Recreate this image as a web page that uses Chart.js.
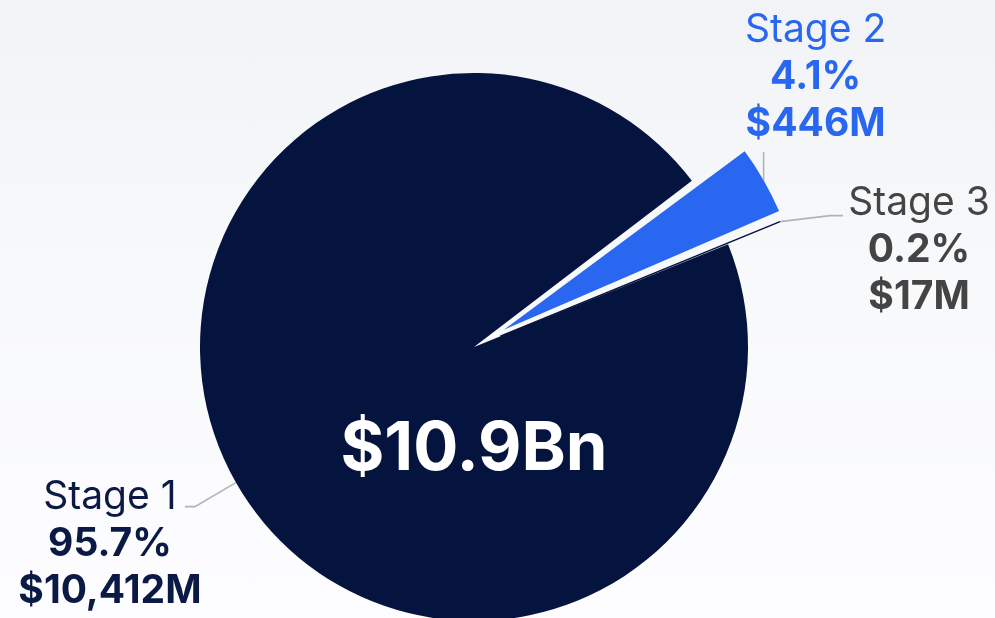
<!DOCTYPE html>
<html><head><meta charset="utf-8">
<script src="https://cdn.jsdelivr.net/npm/chart.js@4.4.1/dist/chart.umd.min.js"></script>
<style>
html,body{margin:0;padding:0;}
body{width:995px;height:618px;overflow:hidden;background:linear-gradient(180deg,#f2f3f6 0%,#f8f9fb 45%,#fdfdff 100%);}
canvas{display:block;}
</style></head><body>
<canvas id="c" width="995" height="618"></canvas>
<script>
const categories = ['Stage 1', 'Stage 2', 'Stage 3'];
const values = [10412, 446, 17];
const percentLabels = ['95.7%', '4.1%', '0.2%'];
const amountLabels = ['$10,412M', '$446M', '$17M'];
const totalLabel = '$10.9Bn';

const sliceColors = ['#05143e', '#2a67f1', '#05143e'];
const textColors = ['#0b1a45', '#2a67f1', '#444444'];
const sliceOffsets = [0, 138, 114];
const sliceBorders = [0, 0, 1.5];

const FONT = 'Inter, "Noto Sans", sans-serif';

const labelPlugin = {
  id: 'stageLabels',
  afterDatasetsDraw(chart) {
    const ctx = chart.ctx;
    const meta = chart.getDatasetMeta(0);
    const anchors = meta.data.map((arc) => {
      const p = arc.getProps(['x', 'y', 'startAngle', 'endAngle', 'outerRadius', 'circumference']);
      const off = arc.options.offset || 0;
      const mid = (p.startAngle + p.endAngle) / 2;
      const fix = 1 - Math.sin(Math.min(Math.PI, p.circumference || 0));
      const d = off / 4 * (1 + fix);
      return {
        x: p.x + Math.cos(mid) * (d + p.outerRadius),
        y: p.y + Math.sin(mid) * (d + p.outerRadius),
        cx: p.x, cy: p.y
      };
    });
    ctx.save();
    ctx.fillStyle = '#ffffff';
    ctx.font = '700 67px ' + FONT;
    ctx.textAlign = 'center';
    ctx.textBaseline = 'alphabetic';
    ctx.fillText(totalLabel, anchors[0].cx, anchors[0].cy + 123);

    ctx.strokeStyle = '#b3b3b3';
    ctx.lineWidth = 1.6;
    const [a1, a2, a3] = anchors;
    ctx.beginPath();
    ctx.moveTo(a1.x, a1.y); ctx.lineTo(a1.x - 41, a1.y + 24); ctx.lineTo(a1.x - 51, a1.y + 24);
    ctx.stroke();
    ctx.beginPath();
    ctx.moveTo(a2.x, a2.y); ctx.lineTo(a2.x, a2.y - 28);
    ctx.stroke();
    ctx.beginPath();
    ctx.moveTo(a3.x, a3.y); ctx.lineTo(a3.x + 50, a3.y - 6); ctx.lineTo(a3.x + 63, a3.y - 6);
    ctx.stroke();

    const blocks = [
      {x: a1.x - 126, y: a1.y + 26},
      {x: a2.x + 52, y: a2.y - 138},
      {x: a3.x + 139, y: a3.y - 7}
    ];
    blocks.forEach((b, i) => {
      ctx.fillStyle = textColors[i];
      ctx.textAlign = 'center';
      ctx.font = '400 39px ' + FONT;
      ctx.fillText(categories[i], b.x, b.y);
      ctx.font = '700 39px ' + FONT;
      ctx.fillText(percentLabels[i], b.x, b.y + 47);
      ctx.fillText(amountLabels[i], b.x, b.y + 94);
    });
    ctx.restore();
  }
};

new Chart(document.getElementById('c'), {
  type: 'pie',
  data: {
    labels: categories,
    datasets: [{
      data: values,
      backgroundColor: sliceColors,
      borderColor: sliceColors,
      borderWidth: sliceBorders,
      offset: sliceOffsets,
      radius: 274
    }]
  },
  options: {
    responsive: false,
    animation: false,
    events: [],
    rotation: 68,
    layout: {padding: {left: 0, right: 47, top: 76, bottom: 0}},
    plugins: {legend: {display: false}, tooltip: {enabled: false}}
  },
  plugins: [labelPlugin]
});
</script>
</body></html>
